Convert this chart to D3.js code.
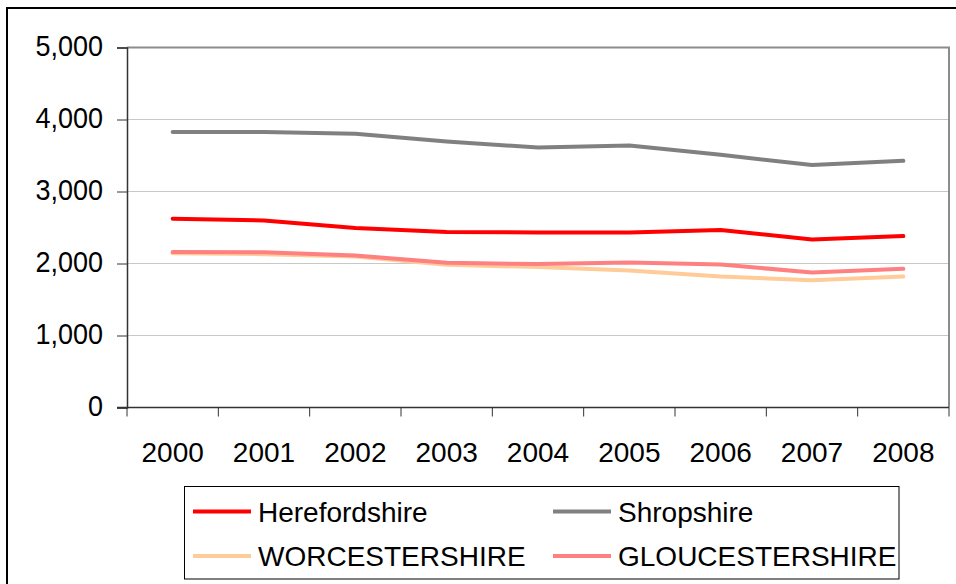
<!DOCTYPE html>
<html>
<head>
<meta charset="utf-8">
<script src="https://cdn.jsdelivr.net/npm/d3@7"></script>
<style>
  body { margin: 0; background: #fff; }
  text { font-family: Arial, "Liberation Sans", sans-serif; fill: #000; }
</style>
</head>
<body>
<div id="chart"></div>
<script>
var years = ["2000", "2001", "2002", "2003", "2004", "2005", "2006", "2007", "2008"];
var yTicks = [0, 1000, 2000, 3000, 4000, 5000];

var herefordshire   = [2621, 2597, 2492, 2436, 2431, 2431, 2464, 2333, 2381];
var shropshire      = [3825, 3825, 3801, 3694, 3611, 3639, 3510, 3367, 3426];
var worcestershire  = [2144, 2130, 2097, 1982, 1950, 1903, 1819, 1769, 1819];
var gloucestershire = [2158, 2155, 2111, 2010, 1992, 2014, 1986, 1875, 1926];

var seriesNames  = ["Herefordshire", "Shropshire", "WORCESTERSHIRE", "GLOUCESTERSHIRE"];
var seriesValues = [herefordshire, shropshire, worcestershire, gloucestershire];
var seriesColors = ["#ff0000", "#808080", "#ffcc99", "#ff8080"];

var width = 956, height = 584,
    margin = {top: 47.5, left: 127, right: 7, bottom: 176.5};

var svg = d3.select("#chart").append("svg")
  .attr("width", width).attr("height", height);

// outer frame (runs past the right and bottom edge)
svg.append("rect")
  .attr("x", 7).attr("y", 8)
  .attr("width", 980).attr("height", 620)
  .style("fill", "none").style("stroke", "#000").style("stroke-width", 2);

var x = d3.scaleBand().domain(years)
  .range([margin.left, width - margin.right]);
var y = d3.scaleLinear().domain([0, 5000])
  .range([height - margin.bottom, margin.top]);

// gridlines
svg.append("g").selectAll("line")
  .data(yTicks.slice(1, -1)).enter().append("line")
  .attr("x1", margin.left).attr("x2", width - margin.right)
  .attr("y1", function(d){ return y(d); }).attr("y2", function(d){ return y(d); })
  .style("stroke", "#c8c8c8").style("stroke-width", 1);

// plot border top and right
svg.append("path")
  .attr("d", "M" + margin.left + "," + y(5000) + "H" + (width - margin.right) + "V" + y(0))
  .style("fill", "none").style("stroke", "#8c8c8c").style("stroke-width", 2);

// y axis
var yAxis = svg.append("g")
  .attr("transform", "translate(" + margin.left + ",0)")
  .call(d3.axisLeft(y).tickValues(yTicks).tickSize(10).tickPadding(14)
    .tickFormat(d3.format(",")));
yAxis.selectAll("text").style("font-size", "27px")
  .attr("transform", "scale(1,1.08)").attr("dy", "0.28em");

// x axis: ticks on category boundaries
var xAxis = svg.append("g")
  .attr("transform", "translate(0," + y(0) + ")");
xAxis.append("line")
  .attr("x1", margin.left - 10).attr("x2", width - margin.right)
  .style("stroke", "#333").style("stroke-width", 1.5);
var bounds = years.map(function(d){ return x(d); }).concat([width - margin.right]);
xAxis.selectAll("line.tick").data(bounds).enter().append("line")
  .attr("class", "tick")
  .attr("x1", function(d){ return d; }).attr("x2", function(d){ return d; })
  .attr("y1", 0).attr("y2", 9)
  .style("stroke", "#333").style("stroke-width", 1);
xAxis.selectAll("text").data(years).enter().append("text")
  .attr("x", function(d){ return x(d) + x.bandwidth() / 2; })
  .attr("y", 54)
  .attr("text-anchor", "middle")
  .style("font-size", "28px")
  .text(function(d){ return d; });

yAxis.select(".domain").style("stroke", "#333").style("stroke-width", 1.5);
yAxis.selectAll(".tick line").style("stroke", "#333");

// lines
var line = d3.line()
  .x(function(d, i){ return x(years[i]) + x.bandwidth() / 2; })
  .y(function(d){ return y(d); });

svg.append("g").selectAll("path")
  .data(seriesValues).enter().append("path")
  .attr("d", line)
  .style("fill", "none")
  .style("stroke", function(d, i){ return seriesColors[i]; })
  .style("stroke-width", 4)
  .style("stroke-linecap", "round")
  .style("stroke-linejoin", "round");

// legend
var legend = svg.append("g");
legend.append("rect")
  .attr("x", 184.5).attr("y", 486.5)
  .attr("width", 714.5).attr("height", 92.5)
  .style("fill", "#fff").style("stroke", "#000").style("stroke-width", 1);

var items = legend.selectAll("g.item").data(seriesNames).enter().append("g")
  .attr("class", "item")
  .attr("transform", function(d, i){
    return "translate(" + (i % 2 ? 553 : 193) + "," + (i < 2 ? 511.5 : 556) + ")";
  });
items.append("line")
  .attr("x1", 0).attr("x2", 58)
  .style("stroke", function(d, i){ return seriesColors[i]; })
  .style("stroke-width", 4);
items.append("text")
  .attr("x", 65).attr("dy", "0.36em")
  .style("font-size", "28px")
  .text(function(d){ return d; });
</script>
</body>
</html>
